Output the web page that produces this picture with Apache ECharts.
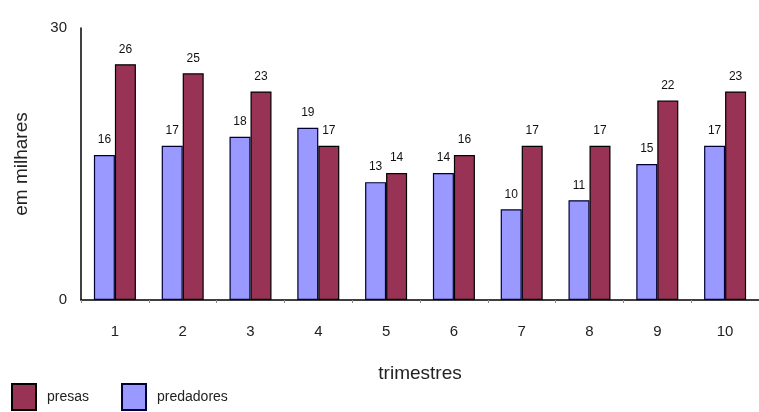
<!DOCTYPE html>
<html><head><meta charset="utf-8">
<script src="https://cdn.jsdelivr.net/npm/echarts@6/dist/echarts.min.js"></script>
<style>html,body{margin:0;padding:0;background:#fff}#c{width:759px;height:412px}</style>
</head><body><div id="c"></div>
<script>
const categories = ['1','2','3','4','5','6','7','8','9','10'];
const predadores = [16,17,18,19,13,14,10,11,15,17];
const presas = [26,25,23,17,14,16,17,17,22,23];
const yTicks = [0,30];

const chart = echarts.init(document.getElementById('c'));
const ff = 'Liberation Sans, Arial, sans-serif';
chart.setOption({
  animation:false,
  textStyle:{fontFamily:ff},
  grid:{left:81,right:0,top:28,bottom:112,containLabel:false},
  legend:{
    left:6,bottom:-4,itemWidth:24,itemHeight:26,itemGap:32,icon:'rect',
    data:['presas','predadores'],
    textStyle:{fontFamily:ff,fontSize:14,color:'#222',padding:[0,0,0,6]}
  },
  xAxis:{
    type:'category',data:categories,
    name:'trimestres',nameLocation:'middle',nameGap:64,
    nameTextStyle:{fontSize:19,color:'#222',fontFamily:ff},
    axisLine:{lineStyle:{color:'#000',width:1.5}},
    axisTick:{show:true,length:3,lineStyle:{color:'#888'}},
    axisLabel:{fontSize:15,color:'#222',margin:24,fontFamily:ff}
  },
  yAxis:{
    type:'value',min:0,max:30,interval:30,
    name:'em milhares',nameLocation:'middle',nameGap:50,
    nameTextStyle:{fontSize:19,color:'#222',fontFamily:ff},
    axisLine:{show:true,lineStyle:{color:'#000',width:1.5}},
    axisTick:{show:false},
    splitLine:{show:false},
    axisLabel:{fontSize:15,color:'#222',margin:14,fontFamily:ff,
      formatter:function(v){return yTicks.indexOf(v)>=0?String(v):'';}}
  },
  series:[
    {name:'predadores',type:'bar',data:predadores,barWidth:21,barGap:'0%',
     itemStyle:{color:'#9999ff',borderColor:'#000033',borderWidth:1.2},
     label:{show:true,position:'top',fontSize:12,color:'#111',distance:9,fontFamily:ff}},
    {name:'presas',type:'bar',data:presas,barWidth:21,barGap:'0%',
     itemStyle:{color:'#993355',borderColor:'#000',borderWidth:1.2},
     label:{show:true,position:'top',fontSize:12,color:'#111',distance:9,fontFamily:ff}}
  ]
});
</script></body></html>
